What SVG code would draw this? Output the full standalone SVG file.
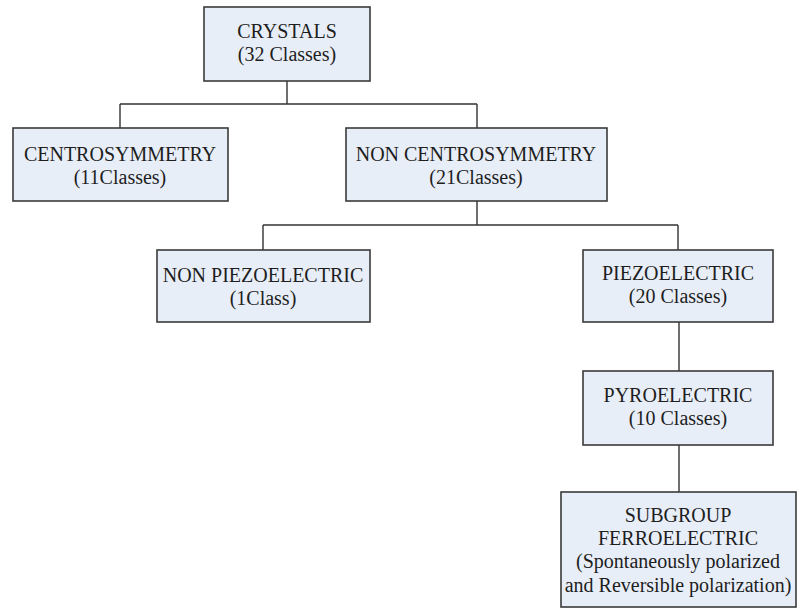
<svg xmlns="http://www.w3.org/2000/svg" width="797" height="608" viewBox="0 0 797 608">
<style>
.box{fill:#e8eef8;stroke:#3a3a3a;stroke-width:1.6}
.t{font-family:"Liberation Serif","Times New Roman",serif;font-size:20px;fill:#1e1e1e;text-anchor:middle}
.c{fill:none;stroke:#333;stroke-width:1.4}
</style>
<rect width="797" height="608" fill="#fff"/>
<g id="connectors">
<path class="c" d="M287 81V104M120 104H477M120 104V128M477 104V128"/>
<path class="c" d="M477 201V225M263 225H678M263 225V250M678 225V250"/>
<path class="c" d="M679 322V371M679 445V492"/>
</g>
<g id="crystals"><rect class="box" x="204" y="7" width="166" height="74"/><text class="t" x="287" y="38">CRYSTALS</text><text class="t" x="287" y="61">(32 Classes)</text></g>
<g id="centro"><rect class="box" x="13" y="128" width="215" height="73"/><text class="t" x="120" y="161">CENTROSYMMETRY</text><text class="t" x="120" y="184">(11Classes)</text></g>
<g id="noncentro"><rect class="box" x="346" y="128" width="261" height="73"/><text class="t" x="476" y="161">NON CENTROSYMMETRY</text><text class="t" x="476" y="184">(21Classes)</text></g>
<g id="nonpiezo"><rect class="box" x="157" y="250" width="213" height="72"/><text class="t" x="263" y="282">NON PIEZOELECTRIC</text><text class="t" x="263" y="305">(1Class)</text></g>
<g id="piezo"><rect class="box" x="583" y="250" width="190" height="72"/><text class="t" x="678" y="280">PIEZOELECTRIC</text><text class="t" x="678" y="303">(20 Classes)</text></g>
<g id="pyro"><rect class="box" x="583" y="371" width="190" height="74"/><text class="t" x="678" y="402">PYROELECTRIC</text><text class="t" x="678" y="425">(10 Classes)</text></g>
<g id="ferro"><rect class="box" x="561" y="492" width="235" height="115"/><text class="t" x="678" y="522">SUBGROUP</text><text class="t" x="678" y="545">FERROELECTRIC</text><text class="t" x="678" y="568">(Spontaneously polarized</text><text class="t" x="678" y="592">and Reversible polarization)</text></g>
</svg>
